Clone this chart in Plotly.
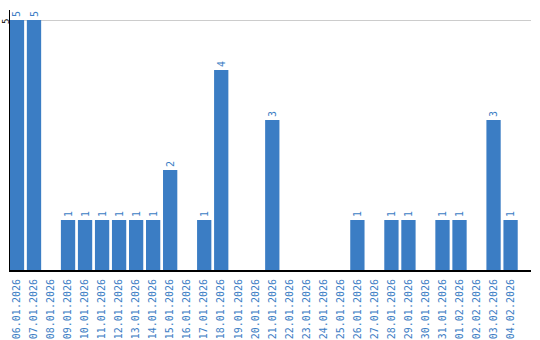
import plotly.graph_objects as go

dates = ["06.01.2026", "07.01.2026", "08.01.2026", "09.01.2026", "10.01.2026",
         "11.01.2026", "12.01.2026", "13.01.2026", "14.01.2026", "15.01.2026",
         "16.01.2026", "17.01.2026", "18.01.2026", "19.01.2026", "20.01.2026",
         "21.01.2026", "22.01.2026", "23.01.2026", "24.01.2026", "25.01.2026",
         "26.01.2026", "27.01.2026", "28.01.2026", "29.01.2026", "30.01.2026",
         "31.01.2026", "01.02.2026", "02.02.2026", "03.02.2026", "04.02.2026"]
counts = [5, 5, 0, 1, 1, 1, 1, 1, 1, 2, 0, 1, 4, 0, 0, 3, 0, 0, 0, 0,
          1, 0, 1, 1, 0, 1, 1, 0, 3, 1]
labels = [str(v) if v else "" for v in counts]
ytick_vals = [5]
ytick_text = ["5"]

blue = "#3b7dc4"
font = "DejaVu Sans Mono"

fig = go.Figure(go.Bar(
    x=dates, y=counts, text=labels, textposition="outside", textangle=-90,
    textfont=dict(family=font, size=10, color=blue), cliponaxis=False,
    marker=dict(color=blue, line=dict(width=0)), width=0.84,
))
fig.update_layout(
    width=540, height=340, margin=dict(l=10, r=9, t=10, b=70),
    paper_bgcolor="white", plot_bgcolor="white", showlegend=False,
    font=dict(family=font, size=10),
)
for v, t in zip(ytick_vals, ytick_text):
    fig.add_annotation(text=t, xref="paper", x=0, xanchor="center", xshift=-4,
                       yref="y", y=v, yanchor="middle", yshift=-2,
                       textangle=-90, showarrow=False, borderpad=0,
                       font=dict(family=font, size=9, color="black"))
fig.update_xaxes(type="category", range=[-0.41, 30.2], tickangle=-90,
                 tickfont=dict(family=font, size=10, color=blue),
                 showline=True, linecolor="black", linewidth=2,
                 showgrid=False, ticks="", ticklen=0, automargin=False,
                 ticklabelstandoff=3)
fig.update_yaxes(range=[0, 5.2], tickvals=ytick_vals, showticklabels=False,
                 showline=True, linecolor="black", linewidth=1,
                 showgrid=True, gridcolor="#cccccc", zeroline=False, ticks="",
                 automargin=False)
fig.write_html("out.html")
